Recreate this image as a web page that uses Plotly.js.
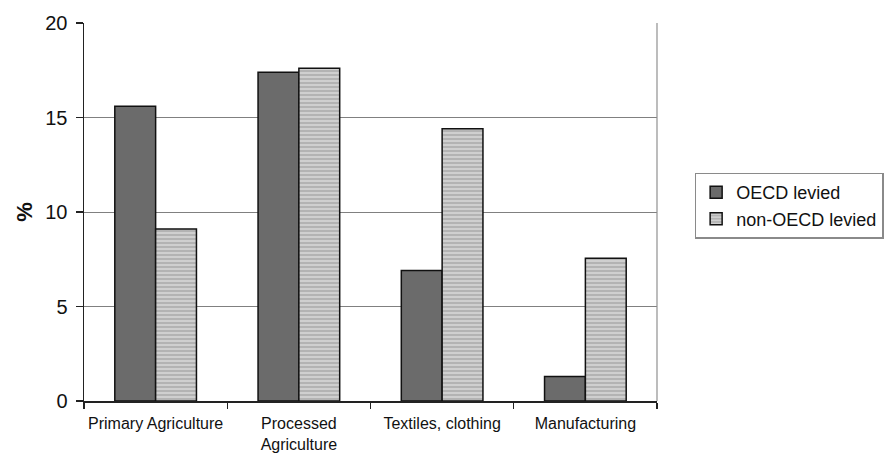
<!DOCTYPE html>
<html>
<head>
<meta charset="utf-8">
<script src="https://cdn.plot.ly/plotly-3.0.1.min.js"></script>
<style>
  html, body { margin: 0; padding: 0; background: #fff; }
  #chart { width: 894px; height: 453px; }
</style>
</head>
<body>
<div id="chart"></div>
<script>
// Sector categories (x axis)
const categories = ['Primary Agriculture', 'Processed<br>Agriculture', 'Textiles, clothing', 'Manufacturing'];

// Average tariff levied, in percent
const oecdLevied = [15.6, 17.4, 6.9, 1.3];
const nonOecdLevied = [9.1, 17.6, 14.4, 7.55];

const yTicks = [0, 5, 10, 15, 20];

const FONT = 'Liberation Sans, Arial, sans-serif';

const traces = [
  {
    type: 'bar',
    name: 'OECD levied',
    x: categories,
    y: oecdLevied,
    marker: {
      color: '#6b6b6b',
      line: { color: '#111', width: 1.5 }
    },
    hoverinfo: 'x+y+name'
  },
  {
    type: 'bar',
    name: 'non-OECD levied',
    x: categories,
    y: nonOecdLevied,
    marker: {
      color: '#b3b3b3',
      line: { color: '#111', width: 1.5 },
      pattern: { shape: '-', fgcolor: '#e2e2e2', bgcolor: '#b3b3b3', size: 4, solidity: 0.3 }
    },
    hoverinfo: 'x+y+name'
  }
];

const layout = {
  width: 894,
  height: 453,
  margin: { l: 84, r: 237, t: 23, b: 52, autoexpand: false },
  paper_bgcolor: '#fff',
  plot_bgcolor: '#fff',
  font: { family: FONT, color: '#111' },
  barmode: 'group',
  bargap: 0.43,
  bargroupgap: 0,
  showlegend: true,
  legend: {
    xref: 'container', yref: 'container',
    x: 0.777, xanchor: 'left',
    y: 0.546, yanchor: 'middle',
    font: { family: FONT, size: 18, color: '#111' },
    bordercolor: '#8a8a8a',
    borderwidth: 1.5,
    bgcolor: '#fff',
    itemwidth: 30,
    tracegroupgap: 0
  },
  xaxis: {
    type: 'category',
    showgrid: false,
    showline: true,
    linecolor: '#222',
    linewidth: 1.5,
    ticks: 'outside',
    ticklen: 6,
    tickcolor: '#222',
    tickwidth: 1.2,
    tickson: 'boundaries',
    tickangle: 0,
    ticklabelstandoff: 7,
    tickfont: { family: FONT, size: 16, color: '#111' },
    automargin: false,
    fixedrange: true
  },
  yaxis: {
    range: [0, 20],
    tickvals: yTicks,
    ticktext: yTicks.map(String),
    showgrid: true,
    gridcolor: '#808080',
    gridwidth: 1,
    zeroline: false,
    showline: true,
    linecolor: '#222',
    linewidth: 1.5,
    ticks: 'outside',
    ticklen: 7,
    tickcolor: '#222',
    tickwidth: 1.2,
    ticklabelstandoff: 4,
    tickfont: { family: FONT, size: 20, color: '#111' },
    title: { text: '<b>%</b>', font: { family: FONT, size: 22, color: '#111' }, standoff: 6 },
    automargin: false,
    fixedrange: true
  },
  shapes: [
    // right-hand edge of the plot area
    { type: 'line', xref: 'paper', yref: 'paper', x0: 1, x1: 1, y0: 0, y1: 1,
      line: { color: '#909090', width: 1.2 } }
  ]
};

Plotly.newPlot('chart', traces, layout, { displayModeBar: false, staticPlot: true });
</script>
</body>
</html>
